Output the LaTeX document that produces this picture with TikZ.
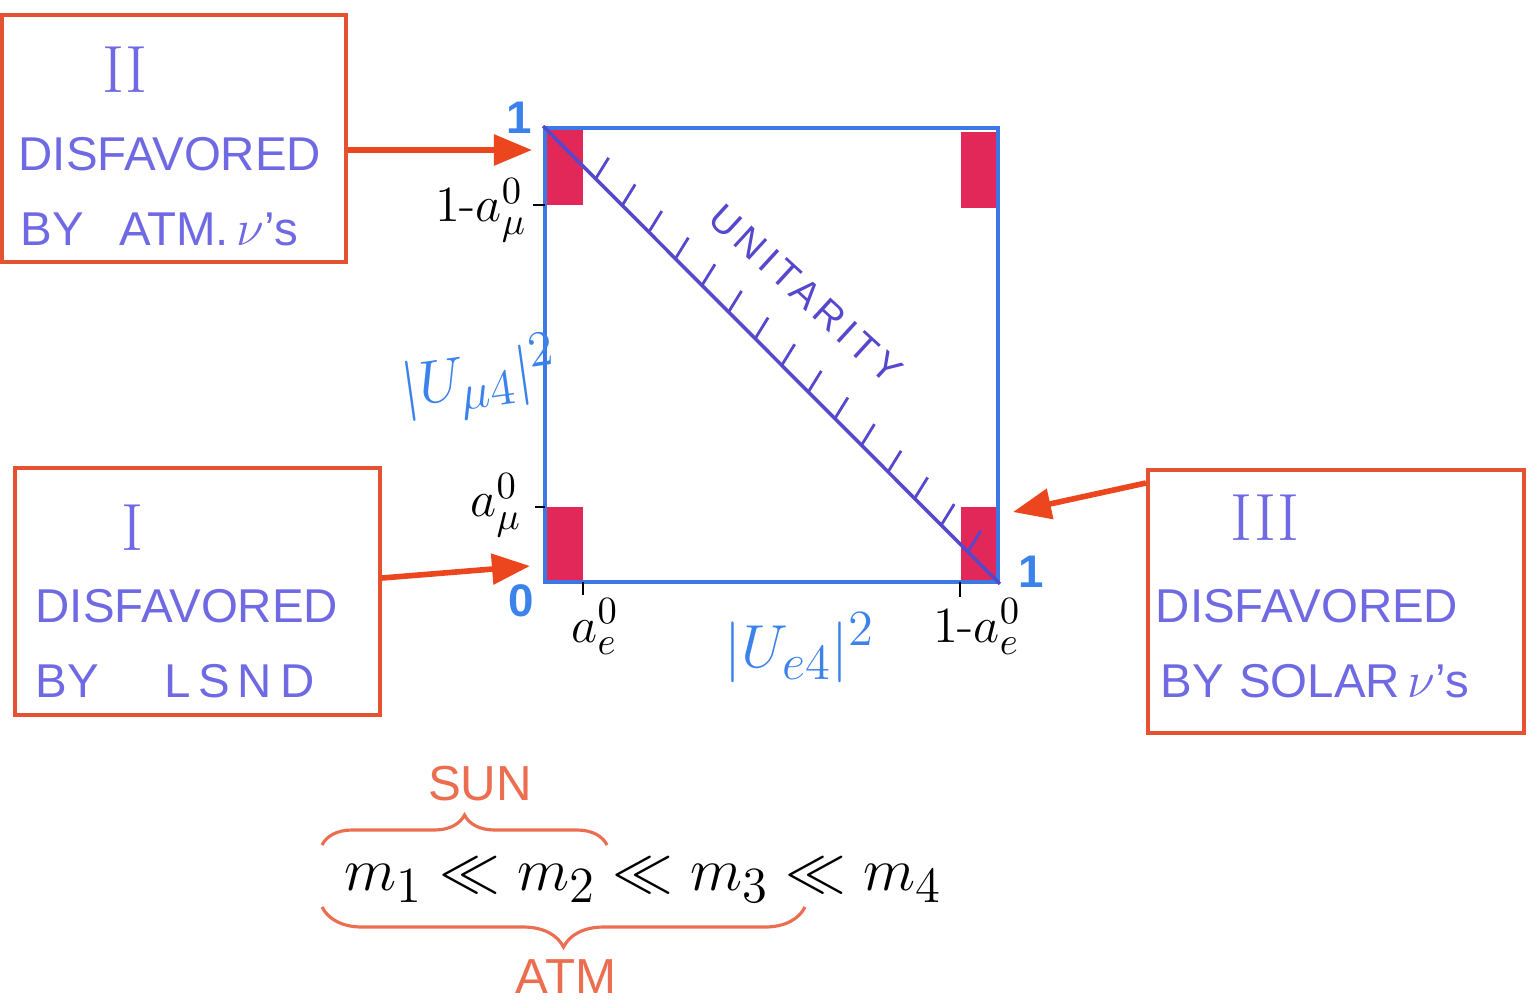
\documentclass[tikz,border=0pt]{standalone}
\usepackage{fontspec}
\setsansfont{Liberation Sans}
\usetikzlibrary{arrows.meta,decorations.pathreplacing,calc}
\definecolor{boxred}{RGB}{228,82,50}
\definecolor{arrred}{RGB}{235,70,30}
\definecolor{txtpurple}{RGB}{112,105,228}
\definecolor{axisblue}{RGB}{60,120,228}
\definecolor{diagpurple}{RGB}{85,72,205}
\definecolor{patchred}{RGB}{226,40,88}
\definecolor{lblblue}{RGB}{60,130,235}
\definecolor{braceor}{RGB}{236,110,80}
\begin{document}
\begin{tikzpicture}[x=0.01cm,y=-0.01cm,
  box/.style={draw=boxred,line width=1.1pt,inner sep=0pt},
  boxtxt/.style={font=\sffamily\fontsize{13.5}{16}\selectfont,text=txtpurple,anchor=base west,inner sep=0pt},
  numeral/.style={font=\rmfamily\fontsize{19}{22}\selectfont,text=txtpurple,inner sep=0pt},
  arr/.style={draw=arrred,line width=1.6pt,-{Triangle[length=0.38cm,width=0.3cm]}},
  patch/.style={fill=patchred,draw=none,inner sep=0pt},
  tick/.style={draw=black,line width=0.8pt},
  blbl/.style={text=lblblue,font=\sffamily\bfseries\fontsize{13}{15}\selectfont,inner sep=0pt},
  klbl/.style={text=black,font=\fontsize{15}{18}\selectfont,inner sep=0pt},
  ulbl/.style={text=lblblue,font=\fontsize{19}{23}\selectfont,inner sep=0pt},
  brc/.style={draw=braceor,line width=0.9pt,decorate},
  brlbl/.style={text=braceor,font=\sffamily\fontsize{14}{17}\selectfont,inner sep=0pt}
]
\useasboundingbox (0,0) rectangle (1534,1003);

% boxes
\node[box,minimum width=3.44cm,minimum height=2.47cm] (boxII) at (174,138.5) {};
\node[box,minimum width=3.65cm,minimum height=2.47cm] (boxI) at (197.5,591.5) {};
\node[box,minimum width=3.76cm,minimum height=2.63cm] (boxIII) at (1336,601.5) {};

\node[numeral] (nII) at (125,70) {II};
\node[boxtxt] (dII) at (18,170) {DISFAVORED};
\node[boxtxt] (bII) at (20,245) {BY\hspace{0.35cm}ATM.\,$\nu$'s};

\node[numeral] (nI) at (132,528) {I};
\node[boxtxt] (dI) at (35,622) {DISFAVORED};
\node[boxtxt] (bI) at (35,697) {BY\hspace{0.65cm}L\,S\,N\,D};

\node[numeral] (nIII) at (1265,518) {III};
\node[boxtxt] (dIII) at (1155,622) {DISFAVORED};
\node[boxtxt] (bIII) at (1160,697) {BY\hspace{0.15cm}SOLAR\,$\nu$'s};

% patches
\node[patch,minimum width=0.36cm,minimum height=0.75cm] (pTL) at (565,167) {};
\node[patch,minimum width=0.37cm,minimum height=0.75cm] (pTR) at (979,170) {};
\node[patch,minimum width=0.38cm,minimum height=0.75cm] (pBL) at (564,545) {};
\node[patch,minimum width=0.37cm,minimum height=0.75cm] (pBR) at (979,545) {};

% square
\node[draw=axisblue,line width=1pt,minimum width=4.53cm,minimum height=4.54cm,inner sep=0pt] (sq) at (771.5,355) {};
\draw[diagpurple,line width=1pt] (sq.north west) -- (sq.south east);
\foreach \i in {0,...,14}{
  \pgfmathsetmacro{\t}{0.115+\i*0.0582}
  \draw[diagpurple,line width=0.8pt] ($(sq.north west)!\t!(sq.south east)$) -- ++(13,-21);
}
\node[text=diagpurple,font=\sffamily\fontsize{11}{13}\selectfont\addfontfeature{LetterSpace=14},rotate=-42.5,inner sep=0pt] (unit) at (806,294) {UNITARITY};

% axis ticks
\draw[tick] (533,205) -- (545,205);
\draw[tick] (535,507) -- (545,507);
\draw[tick] (583,582) -- (583,595);
\draw[tick] (960,582) -- (960,597);

% labels
\node[blbl] (one1) at (519,118) {1};
\node[blbl] (zero) at (521,601) {0};
\node[blbl] (one2) at (1031,572) {1};
\node[klbl] (lmu1) at (481,210) {$1\mbox{-}a^0_\mu$};
\node[klbl] (lmu) at (496,505) {$a^0_\mu$};
\node[klbl] (le) at (595,627) {$a^0_e$};
\node[klbl] (le1) at (977,627) {$1\mbox{-}a^0_e$};
\node[ulbl] (ue4) at (800,648) {$|U_{e4}|^2$};
\node[ulbl,rotate=8] (umu4) at (480,380) {$|U_{\mu4}|^2$};

% arrows
\coordinate (tII) at (532,150);
\coordinate (tI) at (530,566);
\coordinate (tIII) at (1013,512);
\draw[arr] (boxII.east |- tII) -- (tII);
\draw[arr] ([yshift=0.135cm]boxI.east) -- (tI);
\draw[arr] ([yshift=-0.15cm]boxIII.north west) -- (tIII);

% masses
\node[font=\fontsize{19}{23}\selectfont,inner sep=0pt] (mass) at (643,880) {$m_1 \ll m_2 \ll m_3 \ll m_4$};
\draw[brc,decoration={brace,amplitude=0.3cm}] (322,845) -- (607,845);
\draw[brc,decoration={brace,amplitude=0.4cm}] (805,907) -- (322,907);
\node[brlbl] (sun) at (480,784) {SUN};
\node[brlbl] (atm) at (566,977) {ATM};
\end{tikzpicture}
\end{document}
